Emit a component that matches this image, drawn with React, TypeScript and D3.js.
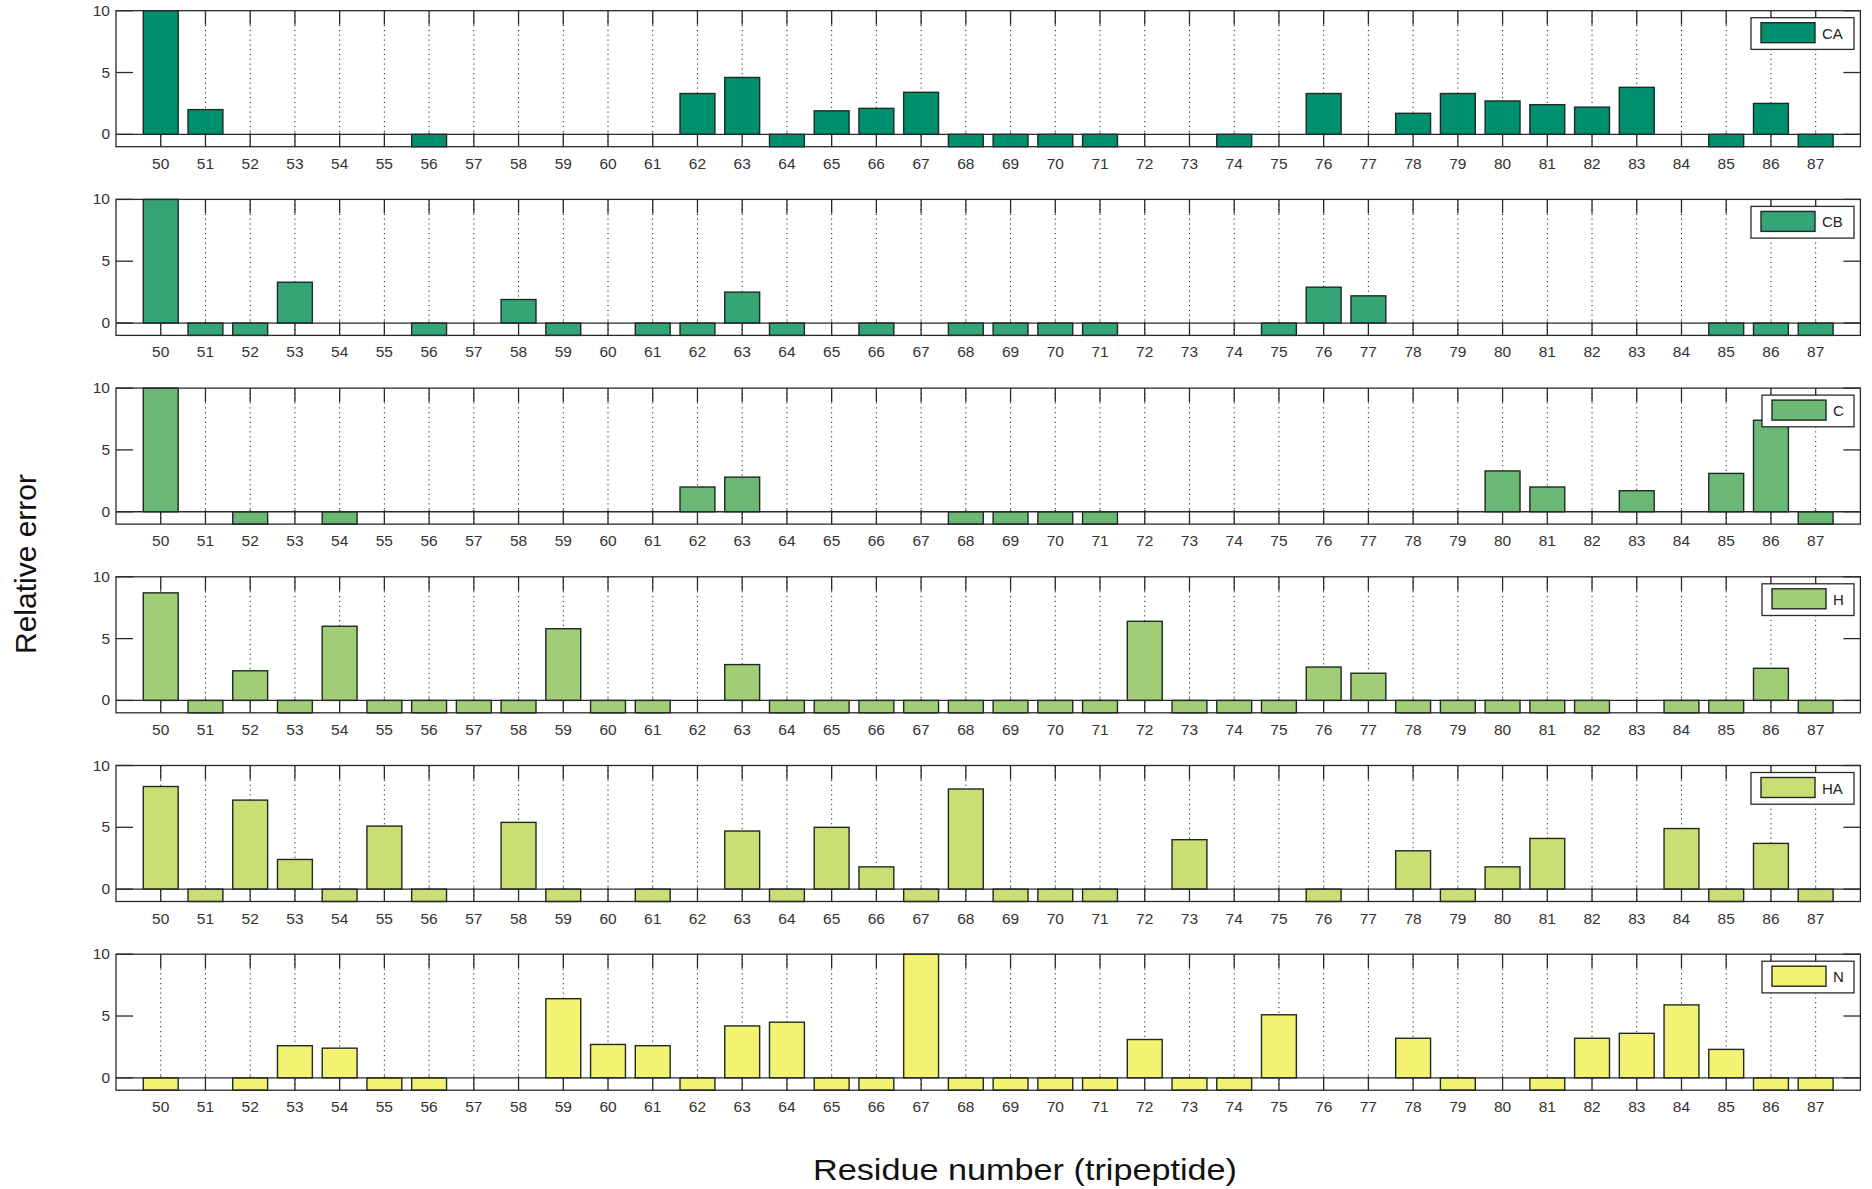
import React from "react";
import * as d3 from "d3";

const residues: number[] = d3.range(50, 88);
const seriesNames: string[] = ["CA", "CB", "C", "H", "HA", "N"];
const seriesColors: string[] = ["#009070", "#35a477", "#6bb874", "#a0cd75", "#c9df74", "#f2f273"];
const yTicks: number[] = [0, 5, 10];

// values per residue 50..87; null = no bar; -1 = negative (clipped) bar
const N_ = null;
const caValues: (number | null)[] = [10, 2.0, N_, N_, N_, N_, -1, N_, N_, N_, N_, N_, 3.3, 4.6, -1, 1.9, 2.1, 3.4, -1, -1, -1, -1, N_, N_, -1, N_, 3.3, N_, 1.7, 3.3, 2.7, 2.4, 2.2, 3.8, N_, -1, 2.5, -1];
const cbValues: (number | null)[] = [10, -1, -1, 3.3, N_, N_, -1, N_, 1.9, -1, N_, -1, -1, 2.5, -1, N_, -1, N_, -1, -1, -1, -1, N_, N_, N_, -1, 2.9, 2.2, N_, N_, N_, N_, N_, N_, N_, -1, -1, -1];
const cValues: (number | null)[] = [10, N_, -1, N_, -1, N_, N_, N_, N_, N_, N_, N_, 2.0, 2.8, N_, N_, N_, N_, -1, -1, -1, -1, N_, N_, N_, N_, N_, N_, N_, N_, 3.3, 2.0, N_, 1.7, N_, 3.1, 7.4, -1];
const hValues: (number | null)[] = [8.7, -1, 2.4, -1, 6.0, -1, -1, -1, -1, 5.8, -1, -1, N_, 2.9, -1, -1, -1, -1, -1, -1, -1, -1, 6.4, -1, -1, -1, 2.7, 2.2, -1, -1, -1, -1, -1, N_, -1, -1, 2.6, -1];
const haValues: (number | null)[] = [8.3, -1, 7.2, 2.4, -1, 5.1, -1, N_, 5.4, -1, N_, -1, N_, 4.7, -1, 5.0, 1.8, -1, 8.1, -1, -1, -1, N_, 4.0, N_, N_, -1, N_, 3.1, -1, 1.8, 4.1, N_, N_, 4.9, -1, 3.7, -1];
const nValues: (number | null)[] = [-1, N_, -1, 2.6, 2.4, -1, -1, N_, N_, 6.4, 2.7, 2.6, -1, 4.2, 4.5, -1, -1, 10, -1, -1, -1, -1, 3.1, -1, -1, 5.1, N_, N_, 3.2, -1, N_, -1, 3.2, 3.6, 5.9, 2.3, -1, -1];

const allSeries = [caValues, cbValues, cValues, hValues, haValues, nValues];

const W = 1872;
const H = 1189;
const LEFT = 116;
const RIGHT = 1860.4;
const TOP0 = 10.7;
const STEP = 188.7;
const PH = 136;
const FONT = "'Liberation Sans', Arial, Helvetica, sans-serif";
const AX = "#2a2a2a";

function Panel({ idx }: { idx: number }) {
  const top = TOP0 + idx * STEP;
  const bottom = top + PH;
  const x = d3.scaleLinear().domain([49, 88]).range([LEFT, RIGHT]);
  const y = d3.scaleLinear().domain([-1, 10]).range([bottom, top]);
  const bw = (x(51) - x(50)) * 0.78;
  const vals = allSeries[idx];
  const color = seriesColors[idx];
  const name = seriesNames[idx];
  const legW = 81 + 11 * name.length;
  const legR = 1854;
  const legT = top + 7;
  return (
    <g>
      {residues.map((r) => (
        <line key={"g" + r} x1={x(r)} x2={x(r)} y1={top} y2={bottom} stroke="#222" strokeWidth={1} strokeDasharray="1.2,3.6" />
      ))}
      {residues.map((r) => (
        <g key={"t" + r}>
          <line x1={x(r)} x2={x(r)} y1={top} y2={top + 14} stroke={AX} strokeWidth={1.3} />
          <line x1={x(r)} x2={x(r)} y1={bottom} y2={bottom - 14} stroke={AX} strokeWidth={1.3} />
          <text x={x(r)} y={bottom + 22} textAnchor="middle" fontSize={15.5} fontFamily={FONT} fill="#333">{r}</text>
        </g>
      ))}
      {residues.map((r, i) => {
        const v = vals[i];
        if (v === null) return null;
        const y0 = y(0);
        const y1 = y(v);
        return (
          <rect key={"b" + r} x={x(r) - bw / 2} width={bw} y={Math.min(y0, y1)} height={Math.abs(y1 - y0)} fill={color} stroke="#1e2a22" strokeWidth={1.4} />
        );
      })}
      <line x1={LEFT} x2={RIGHT} y1={y(0)} y2={y(0)} stroke={AX} strokeWidth={1.3} />
      {yTicks.map((t) => (
        <g key={"y" + t}>
          <line x1={LEFT} x2={LEFT + 17} y1={y(t)} y2={y(t)} stroke={AX} strokeWidth={1.3} />
          <line x1={RIGHT} x2={RIGHT - 17} y1={y(t)} y2={y(t)} stroke={AX} strokeWidth={1.3} />
          <text x={110} y={y(t) + 5} textAnchor="end" fontSize={15.5} fontFamily={FONT} fill="#333">{t}</text>
        </g>
      ))}
      <rect x={LEFT} y={top} width={RIGHT - LEFT} height={PH} fill="none" stroke={AX} strokeWidth={1.3} />
      <rect x={legR - legW} y={legT} width={legW} height={31.7} fill="#fff" stroke={AX} strokeWidth={1.3} />
      <rect x={legR - legW + 10} y={legT + 5} width={54} height={20} fill={color} stroke="#1e2a22" strokeWidth={1.4} />
      <text x={legR - legW + 71} y={legT + 21} fontSize={15} fontFamily={FONT} fill="#222">{name}</text>
    </g>
  );
}

export default function App() {
  return (
    <svg width={W} height={H} style={{ position: "absolute", left: 0, top: 0, background: "#fff" }}>
      <rect x={0} y={0} width={W} height={H} fill="#fff" />
      {seriesNames.map((_, i) => (
        <Panel key={i} idx={i} />
      ))}
      <text transform="translate(36,564) rotate(-90)" textAnchor="middle" fontSize={30} fontFamily={FONT} fill="#111">Relative error</text>
      <text x={1025} y={1180} textAnchor="middle" fontSize={30} textLength={424} lengthAdjust="spacingAndGlyphs" fontFamily={FONT} fill="#111">Residue number (tripeptide)</text>
    </svg>
  );
}
